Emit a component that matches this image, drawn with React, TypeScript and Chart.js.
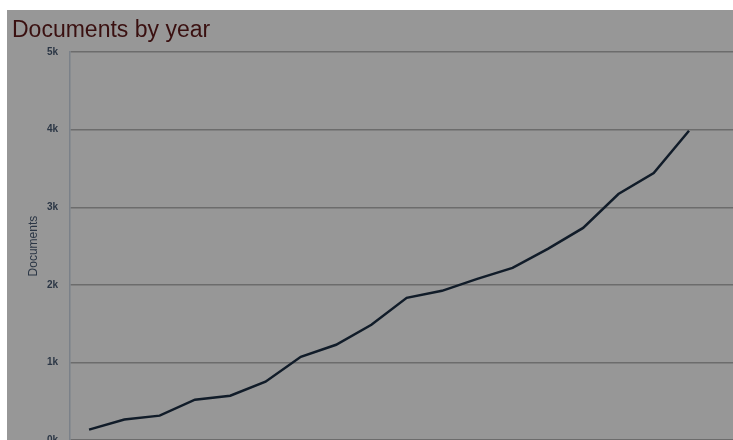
import React, { useEffect, useRef } from "react";
import { Chart, registerables } from "chart.js";

Chart.register(...registerables);

const years = [1996, 1997, 1998, 1999, 2000, 2001, 2002, 2003, 2004, 2005, 2006, 2007, 2008, 2009, 2010, 2011, 2012, 2013];
const documents = [134, 263, 314, 520, 571, 752, 1073, 1228, 1485, 1833, 1923, 2077, 2219, 2463, 2734, 3171, 3441, 3986];
const yTicks = [0, 1000, 2000, 3000, 4000, 5000];
const titleText = "Documents by year";
const yTitle = "Documents";

export default function App() {
  const ref = useRef<HTMLCanvasElement | null>(null);

  useEffect(() => {
    if (!ref.current) return;
    const chart = new Chart(ref.current, {
      type: "line",
      data: {
        datasets: [
          {
            data: years.map((y, i) => ({ x: y, y: documents[i] })),
            borderColor: "#111c29",
            borderWidth: 2.5,
            pointRadius: 0,
            tension: 0,
            fill: false,
          },
        ],
      },
      options: {
        responsive: false,
        animation: false,
        events: [],
        layout: { padding: { left: 5, right: 0, top: 0, bottom: 30 } },
        plugins: {
          legend: { display: false },
          tooltip: { enabled: false },
          title: {
            display: true,
            text: titleText,
            align: "start",
            color: "#3a1010",
            font: { family: "'Liberation Sans', Arial, sans-serif", size: 23, weight: "normal" },
            padding: { top: 7, bottom: 7.5 },
          },
        },
        scales: {
          x: {
            type: "linear",
            display: false,
            min: years[0] - 0.54,
            max: years[0] + 19.21,
          },
          y: {
            min: 0,
            max: 5000,
            afterBuildTicks: (scale: any) => {
              scale.ticks = yTicks.map((v) => ({ value: v }));
            },
            afterFit: (scale: any) => {
              scale.width = 58;
            },
            ticks: {
              padding: 12,
              color: "#2b3645",
              font: { family: "'Liberation Sans', Arial, sans-serif", size: 10, weight: "bold" },
              callback: (v: any) => Number(v) / 1000 + "k",
            },
            grid: { color: "#6c6c6c", lineWidth: 1.5, drawTicks: false },
            border: { display: true, color: "#7b8189", width: 1.5 },
            title: {
              display: true,
              text: yTitle,
              color: "#2b3645",
              font: { family: "'Liberation Sans', Arial, sans-serif", size: 12 },
              padding: { top: 14, bottom: 0 },
            },
          },
        },
      },
    });
    return () => chart.destroy();
  }, []);

  return (
    <div style={{ position: "fixed", left: 0, top: 0, width: 733, height: 440, overflow: "hidden", background: "#ffffff" }}>
      <div style={{ position: "absolute", left: 7, top: 10, width: 726, height: 430, overflow: "hidden", background: "#979797" }}>
        <canvas ref={ref} width={760} height={460} style={{ display: "block" }} />
      </div>
    </div>
  );
}
